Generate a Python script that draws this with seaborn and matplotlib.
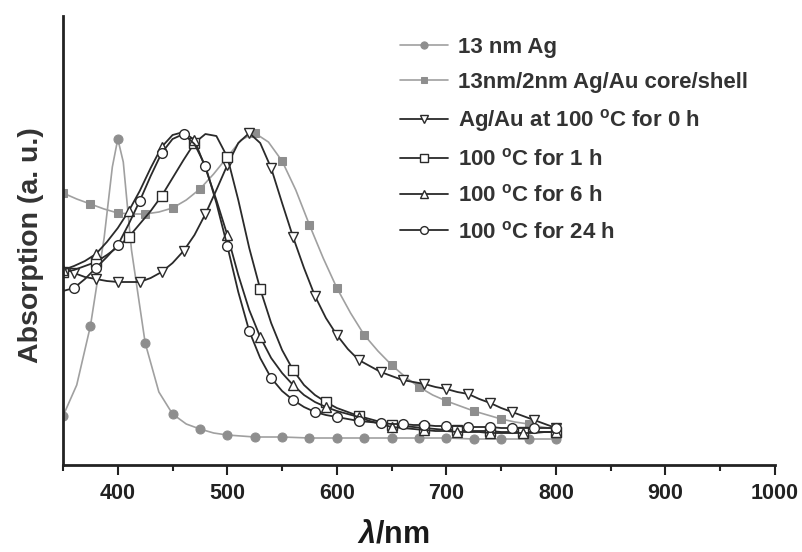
import matplotlib
matplotlib.use('Agg')
import matplotlib.pyplot as plt
import seaborn as sns
from matplotlib.ticker import MultipleLocator

# wavelengths (nm)
wl_gray = [350, 362.5, 375, 387.5, 400, 412.5, 425, 437.5, 450, 462.5, 475, 487.5, 500,
           512.5, 525, 537.5, 550, 562.5, 575, 587.5, 600, 612.5, 625, 637.5, 650, 662.5,
           675, 687.5, 700, 712.5, 725, 737.5, 750, 762.5, 775, 787.5, 800]
wl_ag = [350, 362.5, 375, 387.5, 395, 400, 405, 412.5, 425, 437.5, 450, 462.5, 475, 487.5,
         500, 525, 550, 575, 600, 625, 650, 675, 700, 725, 750, 775, 800]
wl = list(range(350, 801, 10))

# absorbance (a.u.)
ag_13nm = [0.49, 0.80, 1.39, 2.27, 2.98, 3.26, 3.03, 2.15, 1.22, 0.73, 0.51, 0.41, 0.36, 0.32,
           0.30, 0.28, 0.28, 0.27, 0.27, 0.27, 0.27, 0.27, 0.27, 0.26, 0.26, 0.26, 0.26]
core_shell = [2.72, 2.66, 2.61, 2.56, 2.52, 2.51, 2.51, 2.53, 2.57, 2.65, 2.76, 2.91, 3.08,
              3.25, 3.32, 3.23, 3.04, 2.75, 2.40, 2.07, 1.77, 1.52, 1.30, 1.14, 1.00, 0.88,
              0.78, 0.70, 0.64, 0.59, 0.54, 0.50, 0.46, 0.43, 0.41, 0.38, 0.36]
h0 = [1.98, 1.92, 1.88, 1.86, 1.84, 1.83, 1.83, 1.83, 1.87, 1.93, 2.02, 2.14, 2.30, 2.51,
      2.75, 3.00, 3.22, 3.32, 3.22, 2.97, 2.62, 2.28, 1.97, 1.69, 1.47, 1.30, 1.16, 1.05,
      0.99, 0.93, 0.89, 0.85, 0.83, 0.81, 0.78, 0.76, 0.73, 0.71, 0.66, 0.62, 0.57, 0.53,
      0.49, 0.45, 0.41, 0.37]
h1 = [1.93, 1.95, 1.99, 2.03, 2.10, 2.18, 2.28, 2.41, 2.54, 2.69, 2.87, 3.05, 3.22, 3.31,
      3.29, 3.08, 2.65, 2.17, 1.76, 1.42, 1.15, 0.95, 0.80, 0.70, 0.63, 0.57, 0.53, 0.49,
      0.46, 0.43, 0.40, 0.39, 0.38, 0.37, 0.36, 0.35, 0.35, 0.34, 0.34, 0.34, 0.33, 0.33,
      0.33, 0.33, 0.33, 0.33]
h6 = [1.95, 1.99, 2.04, 2.11, 2.23, 2.37, 2.54, 2.74, 2.97, 3.18, 3.30, 3.33, 3.25, 2.97,
      2.65, 2.30, 1.90, 1.55, 1.28, 1.07, 0.92, 0.80, 0.70, 0.63, 0.58, 0.54, 0.51, 0.48,
      0.44, 0.41, 0.38, 0.37, 0.36, 0.35, 0.34, 0.34, 0.33, 0.33, 0.33, 0.32, 0.32, 0.32,
      0.32, 0.32, 0.33, 0.33]
h24 = [1.74, 1.77, 1.86, 1.97, 2.08, 2.20, 2.41, 2.64, 2.89, 3.12, 3.26, 3.31, 3.21, 2.99,
       2.62, 2.19, 1.73, 1.34, 1.07, 0.87, 0.74, 0.65, 0.58, 0.53, 0.50, 0.48, 0.46, 0.44,
       0.43, 0.42, 0.41, 0.41, 0.40, 0.40, 0.39, 0.39, 0.39, 0.38, 0.38, 0.38, 0.37, 0.37,
       0.37, 0.37, 0.37, 0.37]

labels = ['13 nm Ag', '13nm/2nm Ag/Au core/shell',
          r'Ag/Au at 100 $^{\mathbf{o}}$C for 0 h', r'100 $^{\mathbf{o}}$C for 1 h',
          r'100 $^{\mathbf{o}}$C for 6 h', r'100 $^{\mathbf{o}}$C for 24 h']

sns.set_theme(style='white')
plt.rcParams['font.family'] = ['Liberation Sans', 'DejaVu Sans']
plt.rcParams['font.weight'] = 'bold'
plt.rcParams['mathtext.fontset'] = 'custom'
plt.rcParams['mathtext.rm'] = 'Liberation Sans:bold'
plt.rcParams['mathtext.bf'] = 'Liberation Sans:bold'
plt.rcParams['mathtext.it'] = 'Liberation Sans:italic:bold'

fig = plt.figure(figsize=(8.02, 5.52), dpi=100)
ax = fig.add_axes([0.0786, 0.1576, 0.8877, 0.8134])

gray_line = '#a0a0a0'
gray_mark = '#8e8e8e'
dark = '#2a2a2a'

# gray filled series
ag_marks = [i for i, w in enumerate(wl_ag) if w % 25 == 0]
sns.lineplot(x=wl_ag, y=ag_13nm, ax=ax, color=gray_line, marker='o', markevery=ag_marks,
             markerfacecolor=gray_mark, markeredgecolor=gray_mark, markersize=6.5,
             linewidth=1.2, errorbar=None, label=labels[0])
sns.lineplot(x=wl_gray, y=core_shell, ax=ax, color=gray_line, marker='s', markevery=(0, 2),
             markerfacecolor=gray_mark, markeredgecolor=gray_mark, markersize=6,
             linewidth=1.2, errorbar=None, label=labels[1])

# open-marker series
open_series = [(h0, 'v', (1, 2), labels[2]), (h1, 's', (0, 3), labels[3]),
               (h6, '^', (0, 3), labels[4]), (h24, 'o', (1, 2), labels[5])]
for vals, mk, every, lab in open_series:
    sns.lineplot(x=wl, y=vals, ax=ax, color=dark, marker=mk, markevery=every,
                 markerfacecolor='white', markeredgecolor=dark, markeredgewidth=1.0,
                 markersize=7, linewidth=1.3, errorbar=None, label=lab)

ax.set_xlim(350, 1000)
ax.set_ylim(0, 4.49)
ax.xaxis.set_major_locator(MultipleLocator(100))
ax.xaxis.set_minor_locator(MultipleLocator(50))
ax.set_yticks([])
ax.tick_params(axis='x', which='major', direction='out', length=7, width=1.5,
               labelsize=15.5, pad=6, bottom=True, colors='#222222')
ax.tick_params(axis='x', which='minor', direction='out', length=4, width=1.5, bottom=True,
               colors='#222222')
for t in ax.get_xticklabels():
    t.set_fontweight('bold')

for side in ['top', 'right']:
    ax.spines[side].set_visible(False)
for side in ['left', 'bottom']:
    ax.spines[side].set_linewidth(2)
    ax.spines[side].set_color('#222222')

ax.set_xlabel(r'$\lambda$/nm', fontsize=22, fontweight='bold', color='#1a1a1a', va='bottom')
ax.xaxis.set_label_coords(0.464, -0.188)
ax.set_ylabel('Absorption (a. u.)', fontsize=20.5, fontweight='bold', color='#333333')
ax.yaxis.set_label_coords(-0.027, 0.49)

ax.legend(loc='upper left', bbox_to_anchor=(0.458, 0.978), frameon=False, fontsize=16,
          handlelength=2.15, handletextpad=0.45, labelspacing=0.64, borderpad=0,
          markerscale=0.8)
for t in ax.get_legend().get_texts():
    t.set_color('#333333')

fig.savefig('out.png', dpi=100)
